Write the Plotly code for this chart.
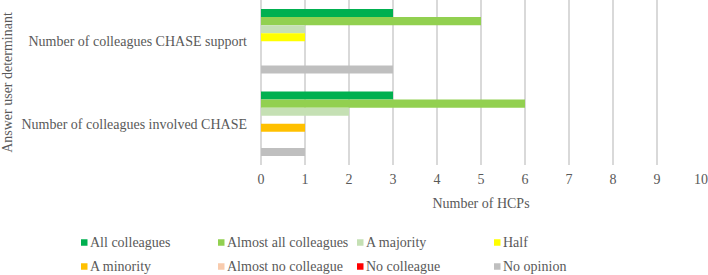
import plotly.graph_objects as go

categories = ["Number of colleagues CHASE support", "Number of colleagues involved CHASE"]
series_names = ["All colleagues", "Almost all colleagues", "A majority", "Half",
                "A minority", "Almost no colleague", "No colleague", "No opinion"]
all_colleagues = [3, 3]
almost_all = [5, 6]
a_majority = [1, 2]
half = [1, 0]
a_minority = [0, 1]
almost_no = [0, 0]
no_colleague = [0, 0]
no_opinion = [3, 1]
series_values = [all_colleagues, almost_all, a_majority, half,
                 a_minority, almost_no, no_colleague, no_opinion]
colors = ["#00B050", "#92D050", "#C5E0B4", "#FFFF00",
          "#FFC000", "#F8CBAD", "#FF0000", "#BFBFBF"]
x_ticks = list(range(0, 11))

FONT = "Liberation Serif, Times New Roman, serif"
GRAY = "#595959"

W, H = 708, 275
ML, MR, MT, MB = 261, 7, 0, 110
PW, PH = W - ML - MR, H - MT - MB

fig = go.Figure()
for name, vals, col in zip(series_names, series_values, colors):
    fig.add_trace(go.Bar(
        y=categories, x=vals, name=name, orientation="h",
        marker=dict(color=col, line=dict(width=0)),
        showlegend=False,
    ))

# legend drawn as small squares + text, 4 entries per row
col_sq_left = [81, 218, 357, 494]
row_center = [242.5, 266.5]
sq = 6.5
shapes = []
annotations = []
for i, (name, col) in enumerate(zip(series_names, colors)):
    r, c = divmod(i, 4)
    x0 = col_sq_left[c]
    yc = row_center[r]
    shapes.append(dict(
        type="rect", xref="paper", yref="paper",
        x0=(x0 - ML) / PW, x1=(x0 + sq - ML) / PW,
        y0=(MT + PH - (yc - sq / 2)) / PH, y1=(MT + PH - (yc + sq / 2)) / PH,
        fillcolor=col, line=dict(width=0), layer="above",
    ))
    annotations.append(dict(
        text=name, xref="paper", yref="paper",
        x=(x0 + sq - ML) / PW, y=(MT + PH - yc) / PH,
        xanchor="left", yanchor="middle", showarrow=False,
        font=dict(family=FONT, size=14, color=GRAY),
    ))

fig.update_layout(
    width=W, height=H,
    margin=dict(l=ML, r=MR, t=MT, b=MB),
    paper_bgcolor="white", plot_bgcolor="white",
    barmode="group", bargap=0.22, bargroupgap=0,
    font=dict(family=FONT, size=14, color=GRAY),
    showlegend=False,
    shapes=shapes, annotations=annotations,
    xaxis=dict(
        range=[0, 10], tickvals=x_ticks, showgrid=True,
        gridcolor="#D9D9D9", gridwidth=1.5, zeroline=True,
        zerolinecolor="#D9D9D9", zerolinewidth=1.5, showline=False,
        ticks="outside", ticklen=1, tickcolor="rgba(0,0,0,0)",
        tickfont=dict(family=FONT, size=14, color=GRAY),
        title=dict(text="Number of HCPs", font=dict(family=FONT, size=14, color=GRAY), standoff=12),
        automargin=False, fixedrange=True,
    ),
    yaxis=dict(
        autorange="reversed", showgrid=False, zeroline=False, showline=False,
        ticks="", ticklabelstandoff=13,
        tickfont=dict(family=FONT, size=14, color=GRAY),
        title=dict(text="Answer user determinant", font=dict(family=FONT, size=14, color=GRAY), standoff=8),
        automargin=False, fixedrange=True,
    ),
)

fig.write_html("out.html", config={"displayModeBar": False},
               post_script="document.body.style.margin='0px';")
